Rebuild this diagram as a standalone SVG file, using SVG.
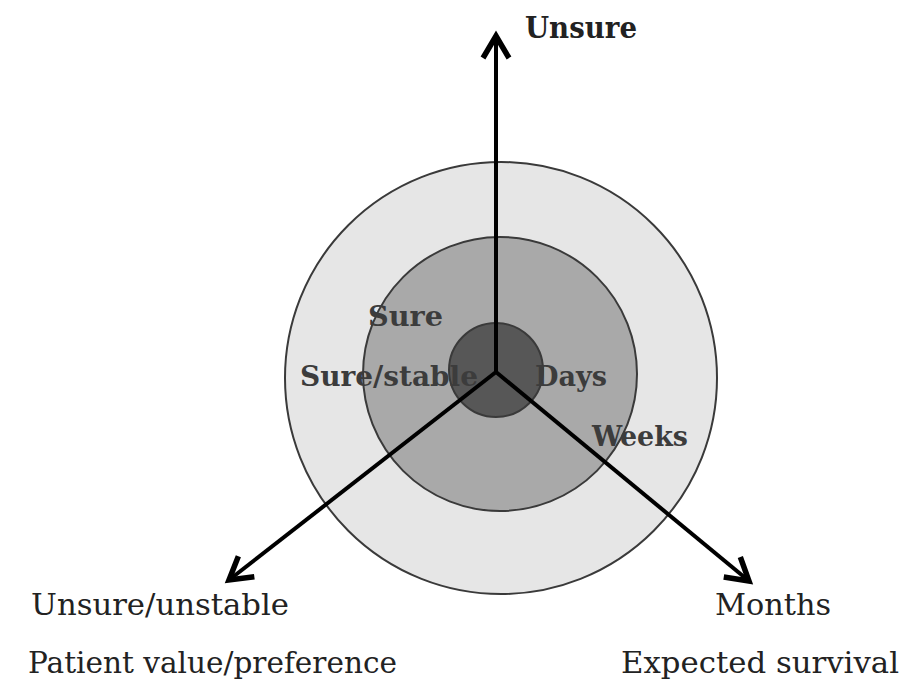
<svg xmlns="http://www.w3.org/2000/svg" width="902" height="685" viewBox="0 0 902 685">
<defs>
<style>
.ring{stroke:#3a3a3a;stroke-width:2}
.axis{stroke:#000;stroke-width:4;fill:none}
.inlab{font-family:"DejaVu Serif","Liberation Serif",serif;font-weight:bold;fill:#3c3c3c;font-size:28px}
.ax{font-family:"DejaVu Serif","Liberation Serif",serif;fill:#222;font-size:30px}
</style>
<marker id="head" markerUnits="userSpaceOnUse" markerWidth="40" markerHeight="40" viewBox="-30 -20 40 40" refX="0" refY="0" orient="auto">
<path d="M -22 -13 L 0 0 L -22 13" fill="none" stroke="#000" stroke-width="5.5" stroke-linejoin="miter"/>
</marker>
</defs>
<rect width="902" height="685" fill="#fff"/>
<g id="outer-ring"><circle class="ring" cx="501" cy="378" r="216" fill="#e6e6e6"/></g>
<g id="middle-ring"><circle class="ring" cx="500" cy="374" r="137" fill="#a9a9a9"/></g>
<g id="inner-ring"><circle class="ring" cx="496" cy="370" r="47" fill="#575757"/></g>
<g id="connectors">
<line class="axis" x1="496" y1="372" x2="496" y2="36" marker-end="url(#head)"/>
<line class="axis" x1="496" y1="372" x2="229" y2="580" marker-end="url(#head)"/>
<line class="axis" x1="496" y1="372" x2="749" y2="581" marker-end="url(#head)"/>
</g>
<g id="ring-labels">
<text class="inlab" x="368" y="326" textLength="75" lengthAdjust="spacingAndGlyphs">Sure</text>
<text class="inlab" x="300" y="386" textLength="178" lengthAdjust="spacingAndGlyphs">Sure/stable</text>
<text class="inlab" x="535" y="386" textLength="72" lengthAdjust="spacingAndGlyphs">Days</text>
<text class="inlab" x="592" y="446" textLength="96" lengthAdjust="spacingAndGlyphs">Weeks</text>
</g>
<g id="axis-labels">
<text class="ax" x="525" y="38" font-weight="bold" font-size="28" textLength="112" lengthAdjust="spacingAndGlyphs">Unsure</text>
<text class="ax" x="31" y="615" textLength="258" lengthAdjust="spacingAndGlyphs">Unsure/unstable</text>
<text class="ax" x="28" y="673" textLength="369" lengthAdjust="spacingAndGlyphs">Patient value/preference</text>
<text class="ax" x="715" y="615" textLength="116" lengthAdjust="spacingAndGlyphs">Months</text>
<text class="ax" x="621" y="673" textLength="278" lengthAdjust="spacingAndGlyphs">Expected survival</text>
</g>
</svg>
